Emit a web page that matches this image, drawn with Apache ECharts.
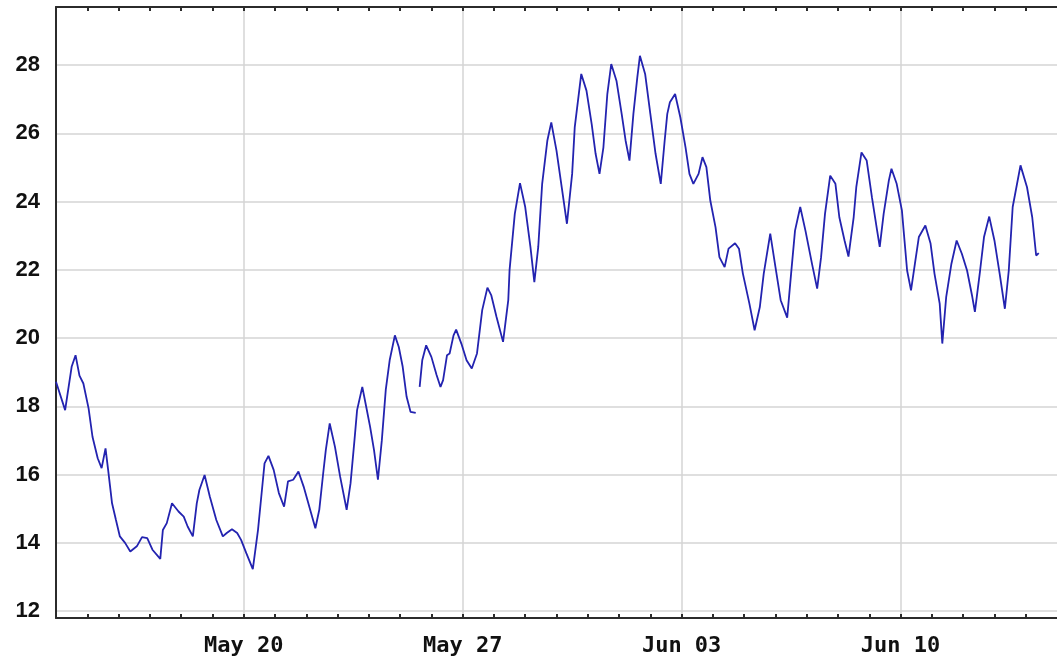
<!DOCTYPE html>
<html>
<head>
<meta charset="utf-8">
<script src="https://cdn.jsdelivr.net/npm/echarts@6/dist/echarts.min.js"></script>
<style>
    html, body { margin: 0; padding: 0; background: #fff; }
    #grafik { width: 1057px; height: 658px; }
</style>
</head>
<body>
<div id="grafik"></div>
<script>
// start of the x range, hours below are counted from here
var startDate = Date.UTC(2013, 4, 14);
var endDate = Date.UTC(2013, 5, 15);

var hours = [
    0, 7, 12, 15, 18, 21, 25, 28, 32, 35, 38, 40, 43, 46, 49, 53, 57, 62, 66, 70,
    74, 80, 82, 85, 89, 94, 98, 101, 105, 108, 110, 114, 118, 123, 128, 131, 135, 139, 142, 146,
    151, 155, 158, 160, 163, 167, 171, 175, 178, 182, 186, 190, 195, 199, 202, 205, 207, 210, 214, 218,
    223, 226, 229, 231, 235, 238, 241, 244, 247, 250, 253, 256, 260, 263, 266, 269, 272, 276, 277,
    279, 281, 284, 288, 292, 295, 297, 300, 302, 305, 307, 311, 315, 319, 323, 327, 331, 334, 338, 343,
    347, 348, 352, 356, 360, 364, 367, 370, 373, 377, 380, 384, 388, 392, 396, 398, 403, 407, 411, 414,
    417, 420, 423, 426, 430, 434, 437, 440, 443, 446, 448, 452, 456, 460, 464, 467, 469, 471, 475, 479,
    483, 486, 489, 493, 496, 499, 502, 506, 509, 513, 516, 521, 524, 527, 532, 536, 540, 543, 548, 552,
    556, 561, 564, 567, 571, 575, 580, 584, 587, 590, 594, 598, 601, 605, 608, 612, 614, 618, 622, 626,
    630, 632, 635, 639, 641, 645, 649, 651, 653, 656, 659, 662, 667, 671, 674, 678, 680, 683, 687, 691,
    695, 699, 703, 705, 709, 712, 716, 720, 724, 728, 731, 734, 740, 745, 749, 752, 754
];

var temps = [
    18.72, 17.89, 19.16, 19.5, 18.9, 18.67, 17.94, 17.11, 16.48, 16.19, 16.77, 16.14, 15.16, 14.67, 14.19, 14.0, 13.75, 13.9, 14.17, 14.14,
    13.8, 13.53, 14.38, 14.58, 15.16, 14.92, 14.77, 14.48, 14.19, 15.16, 15.55, 15.99, 15.36, 14.67, 14.19, 14.29, 14.4, 14.29, 14.09, 13.7,
    13.23, 14.38, 15.55, 16.33, 16.55, 16.14, 15.46, 15.06, 15.8, 15.85, 16.09, 15.65, 14.97, 14.43, 14.97, 16.04, 16.72, 17.5, 16.82, 15.94,
    14.97, 15.75, 17.01, 17.89, 18.57, 17.99, 17.4, 16.72, 15.85, 17.01, 18.48, 19.35, 20.08, 19.74, 19.16, 18.28, 17.84, 17.81, null,
    18.57, 19.35, 19.79, 19.45, 18.92, 18.57, 18.77, 19.5, 19.55, 20.08, 20.25, 19.84, 19.35, 19.11, 19.55, 20.82, 21.48, 21.25, 20.62, 19.89,
    21.11, 22.0, 23.64, 24.54, 23.84, 22.67, 21.64, 22.67, 24.52, 25.79, 26.32, 25.49, 24.42, 23.35, 24.81, 26.18, 27.74, 27.25, 26.27, 25.4,
    24.81, 25.59, 27.15, 28.03, 27.54, 26.57, 25.79, 25.2, 26.57, 27.64, 28.27, 27.74, 26.57, 25.4, 24.52, 25.79, 26.57, 26.91, 27.15, 26.47,
    25.59, 24.81, 24.52, 24.81, 25.3, 25.01, 24.03, 23.25, 22.37, 22.08, 22.62, 22.78, 22.62, 21.89, 21.01, 20.23, 20.91, 21.89, 23.06, 22.08,
    21.11, 20.6, 21.89, 23.15, 23.84, 23.15, 22.18, 21.45, 22.37, 23.64, 24.76, 24.52, 23.54, 22.86, 22.39, 23.54, 24.42, 25.44, 25.2, 24.13,
    23.15, 22.67, 23.64, 24.62, 24.96, 24.52, 23.74, 22.86, 21.98, 21.4, 22.18, 22.96, 23.3, 22.77, 21.89, 21.01, 19.84, 21.21, 22.18, 22.86,
    22.47, 21.98, 21.21, 20.77, 21.98, 22.96, 23.56, 22.86, 21.89, 20.86, 21.98, 23.84, 25.06, 24.42, 23.54, 22.42, 22.49
];

var weekLabels = [Date.UTC(2013, 4, 20), Date.UTC(2013, 4, 27), Date.UTC(2013, 5, 3), Date.UTC(2013, 5, 10)];
var yTicks = [12, 14, 16, 18, 20, 22, 24, 26, 28];

var bulan = ['Jan', 'Feb', 'Mar', 'Apr', 'May', 'Jun', 'Jul', 'Aug', 'Sep', 'Oct', 'Nov', 'Dec'];

function formatTanggal(v) {
    var d = new Date(v);
    var hari = d.getUTCDate();
    return bulan[d.getUTCMonth()] + ' ' + (hari < 10 ? '0' + hari : hari);
}

var seriesData = [];
for (var i = 0; i < hours.length; i++) {
    seriesData.push([startDate + hours[i] * 3600000, temps[i]]);
}

// daily tick marks (no grid lines)
var dayTicks = [];
for (var t = startDate + 86400000; t < endDate; t += 86400000) {
    dayTicks.push(t);
}

var warnaSumbu = '#2b2b2b';
var warnaGrid = '#d4d4d4';

var chart = echarts.init(document.getElementById('grafik'));
chart.setOption({
    animation: false,
    grid: {
        left: 56,
        right: 0,
        top: 7,
        bottom: 40
    },
    xAxis: [{
        type: 'value',
        min: startDate,
        max: endDate,
        position: 'bottom',
        axisLine: { show: true, lineStyle: { color: warnaSumbu, width: 2 } },
        axisTick: { show: false, customValues: weekLabels },
        axisLabel: {
            customValues: weekLabels,
            formatter: formatTanggal,
            color: '#111',
            fontFamily: 'DejaVu Sans Mono',
            fontWeight: 'bold',
            fontSize: 22,
            margin: 17
        },
        splitLine: { show: true, lineStyle: { color: warnaGrid, width: 1.5 } }
    }, {
        type: 'value',
        min: startDate,
        max: endDate,
        position: 'bottom',
        axisLine: { show: false },
        axisTick: { show: true, inside: true, length: 4, customValues: dayTicks, lineStyle: { color: warnaSumbu, width: 2 } },
        axisLabel: { show: false },
        splitLine: { show: false }
    }, {
        type: 'value',
        min: startDate,
        max: endDate,
        position: 'top',
        axisLine: { show: true, lineStyle: { color: warnaSumbu, width: 2 } },
        axisTick: { show: true, inside: true, length: 4, customValues: dayTicks, lineStyle: { color: warnaSumbu, width: 2 } },
        axisLabel: { show: false },
        splitLine: { show: false }
    }],
    yAxis: {
        type: 'value',
        min: 11.8,
        max: 29.7,
        axisLine: { show: true, lineStyle: { color: warnaSumbu, width: 2 } },
        axisTick: { show: false, customValues: yTicks },
        axisLabel: {
            customValues: yTicks,
            color: '#111',
            fontFamily: 'Liberation Sans',
            fontWeight: 'bold',
            fontSize: 22,
            margin: 16
        },
        splitLine: { show: true, lineStyle: { color: warnaGrid, width: 1.5 } }
    },
    series: [{
        type: 'line',
        xAxisIndex: 0,
        data: seriesData,
        showSymbol: false,
        connectNulls: false,
        lineStyle: { color: '#2323b0', width: 1.8 },
        z: 5
    }]
});
</script>
</body>
</html>
